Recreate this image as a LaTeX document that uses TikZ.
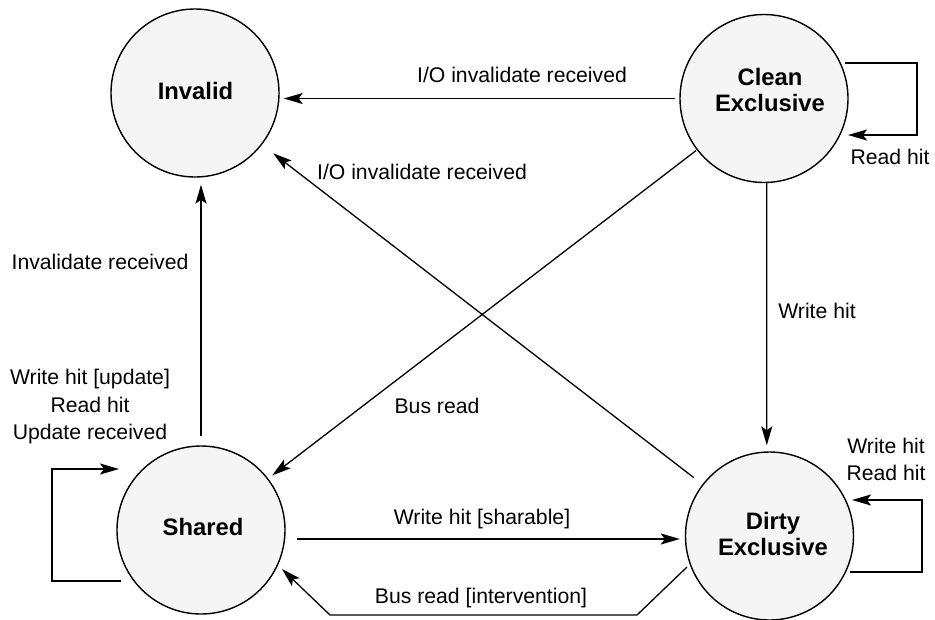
\documentclass[tikz,border=0pt]{standalone}
\usepackage{fontspec}
\setmainfont{Liberation Sans}
\usetikzlibrary{arrows.meta,calc}
\definecolor{statefill}{HTML}{F5F5F5}
\begin{document}
\begin{tikzpicture}[x=1pt,y=-1pt,
  state/.style={circle,draw,line width=1.4pt,fill=statefill,minimum size=168pt,inner sep=0pt},
  stxt/.style={align=center,inner sep=0pt,font=\fontsize{23.8}{26}\selectfont\bfseries},
  arr/.style={-{Stealth[length=19pt,width=11pt,inset=4pt]},line width=1.3pt},
  loop/.style={arr,rounded corners=0pt},
  lbl/.style={anchor=base,inner sep=0pt,font=\fontsize{21.2}{27.5}\selectfont}]
\useasboundingbox (0,0) rectangle (935,619);
% states
\node[state] (inv) at (195,93) {};
\node[state] (ce) at (764,98.5) {};
\node[state] (sh) at (201,530) {};
\node[state] (de) at (769.5,536) {};
\node[stxt] (invT) at (195.5,91) {Invalid};
\node[stxt] (ceT) at (770,90) {Clean\\Exclusive};
\node[stxt] (shT) at (203,527) {Shared};
\node[stxt] (deT) at (773,534) {Dirty\\Exclusive};
% transitions
\draw[arr] ($(ce.west)+(-4,0)$) -- ($(inv.east |- ce.west)+(4,0)$);
\draw[arr,shorten <=11pt,shorten >=14pt] (de) -- (inv);
\draw[arr,shorten <=1pt,shorten >=5pt] (ce) -- (sh);
\draw[arr] ($(ce.south)+(2.7,0)$) -- ($(de.north)+(-2.7,-6)$);
\draw[arr] ($(sh.north)+(0,-9)$) -- ($(inv.south -| sh.north)+(0,7)$);
\draw[arr] ($(sh.east)+(11,9)$) -- ($(de.west)+(-5,3)$);
\draw[arr] ($(de)+(-82.5,31)$) -- ($(de)+(-132.5,79)$) -- ($(sh)+(129,85)$) -- ($(sh)+(81,39)$);
% self loops
\draw[loop] ($(sh)+(-80,51)$) -- ++(-69,0) -- ++(0,-112) -- ($(sh)+(-82,-61)$);
\draw[loop] ($(ce)+(81,-35.5)$) -- ++(72,0) -- ++(0,72) -- ($(ce)+(84,36.5)$);
\draw[loop] ($(de)+(80.5,36)$) -- ++(72,0) -- ++(0,-72) -- ($(de)+(82.5,-36)$);
% labels
\node[lbl] (l1) at (522,82.6) {I/O invalidate received};
\node[lbl] (l2) at (422,179.6) {I/O invalidate received};
\node[lbl] (l3) at (100,269.6) {Invalidate received};
\node[lbl] (l4) at (437,413.6) {Bus read};
\node[lbl] (l5) at (817,318.6) {Write hit};
\node[lbl] (l6) at (482,524.6) {Write hit [sharable]};
\node[lbl] (l7) at (481,603.6) {Bus read [intervention]};
\node[lbl] (l8a) at (90,384.6) {Write hit [update]};
\node[lbl] (l8b) at (90,412.6) {Read hit};
\node[lbl] (l8c) at (90,439.6) {Update received};
\node[lbl] (l9) at (890,164.6) {Read hit};
\node[lbl] (l10a) at (886,453.6) {Write hit};
\node[lbl] (l10b) at (886,480.6) {Read hit};
\end{tikzpicture}
\end{document}
